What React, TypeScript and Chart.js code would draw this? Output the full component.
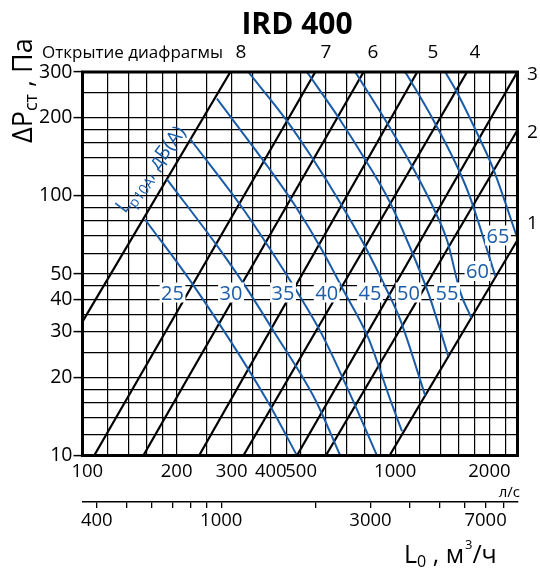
import React, { useEffect, useRef } from "react";
import { Chart, registerables } from "chart.js";

Chart.register(...registerables);

const FONT = "'Open Sans', 'Noto Sans', sans-serif";
const BLUE = "#1a5ca8";

// ---- axes ----
const flowMin = 100;
const flowMax = 2460;
const pressureMin = 10;
const pressureMax = 300;
const flowGrid = [100, 120, 140, 160, 180, 200, 250, 300, 350, 400, 450, 500, 600, 700, 800, 900, 1000, 1200, 1400, 1600, 1800, 2000, 2250];
const flowLabels = [100, 200, 300, 400, 500, 1000, 2000];
const pressureGrid = [10, 12, 14, 16, 18, 20, 25, 30, 35, 40, 45, 50, 60, 70, 80, 90, 100, 120, 140, 160, 180, 200, 250, 300];
const pressureLabels = [10, 20, 30, 40, 50, 100, 200, 300];
const m3hGrid = [400, 500, 600, 700, 800, 900, 1000, 2000, 3000, 4000, 5000, 6000, 7000, 8000];
const m3hLabels = [400, 1000, 3000, 7000];

// ---- diaphragm opening curves: [l/s, Pa] ----
const openingNames = ["8", "7", "6", "5", "4", "3", "2", "1"];
const opening8 = [[100, 32.8], [297, 300]];
const opening7 = [[109, 10], [555, 300]];
const opening6 = [[156.5, 10], [792, 300]];
const opening5 = [[236, 10], [1176, 300]];
const opening4 = [[327, 10], [1696, 300]];
const opening3 = [[485, 10], [2457, 300]];
const opening2 = [[600, 10], [2460, 179.4]];
const opening1 = [[959, 10], [2460, 67.6]];
const openings = [opening8, opening7, opening6, opening5, opening4, opening3, opening2, opening1];

// ---- sound level curves Lp10A, dB(A): [l/s, Pa] ----
const soundLevels = [25, 30, 35, 40, 45, 50, 55, 60, 65];
const sound25 = [[158.5, 81.1], [225.8, 45.4], [388, 16.4], [485, 10]];
const sound30 = [[186, 116], [271, 63.6], [331, 45.0], [410, 29.9], [555, 16.4], [667, 10]];
const sound35 = [[221, 165.6], [323, 90.6], [392, 64.1], [486, 42.6], [580, 29.6], [707, 17.9], [874, 10]];
const sound40 = [[269, 236.8], [392, 129.2], [477, 92.2], [588, 60.8], [682, 43.4], [820, 28.4], [964, 16.4], [1051, 12.4]];
const sound45 = [[339, 300], [445, 198.4], [541, 140.8], [669, 93.5], [787, 66.4], [943, 43.0], [1038, 33.3], [1247, 17.0]];
const sound50 = [[522, 300], [657, 201.3], [814, 133.9], [957, 95.6], [1117, 63.0], [1275, 42.3], [1477, 24.2]];
const sound55 = [[745, 300], [950, 187.6], [1117, 133.9], [1343, 86.7], [1467, 67.0], [1614, 42.6], [1751, 33.9]];
const sound60 = [[1076, 300], [1125, 274.7], [1323, 196.1], [1591, 126.9], [1738, 98.1], [2089, 49.1]];
const sound65 = [[1445, 300], [1567, 253.6], [1871, 164.2], [2059, 126.9], [2457, 68.8]];
const soundCurves = [sound25, sound30, sound35, sound40, sound45, sound50, sound55, sound60, sound65];

const toXY = (pts: number[][]) => pts.map(([x, y]) => ({ x, y }));

function drawLabels(chart: any) {
  const ctx: CanvasRenderingContext2D = chart.ctx;
  ctx.save();
  ctx.fillStyle = "#000";
  ctx.textBaseline = "alphabetic";

  // title
  ctx.font = `bold 30px ${FONT}`;
  ctx.textAlign = "center";
  ctx.fillText("IRD 400", 297, 34);

  // diaphragm opening header
  ctx.font = `17px ${FONT}`;
  ctx.textAlign = "left";
  ctx.fillText("Открытие диафрагмы", 42, 58);
  ctx.font = `19px ${FONT}`;
  ctx.textAlign = "center";
  const topPos = [241, 326, 373, 433, 475];
  topPos.forEach((x, i) => ctx.fillText(openingNames[i], x, 58));
  ctx.textAlign = "left";
  const rightPos = [80, 138, 229];
  rightPos.forEach((y, i) => ctx.fillText(openingNames[5 + i], 527, y));

  // y title
  ctx.save();
  ctx.translate(32, 143);
  ctx.rotate(-Math.PI / 2);
  ctx.textAlign = "left";
  ctx.font = `27px ${FONT}`;
  ctx.fillText("ΔP", 0, 0);
  let w = ctx.measureText("ΔP").width;
  ctx.font = `18px ${FONT}`;
  ctx.fillText("ст", w, 5);
  w += ctx.measureText("ст").width;
  ctx.font = `27px ${FONT}`;
  ctx.fillText(" , Па", w, 0);
  ctx.restore();

  // x title (m3/h)
  ctx.textAlign = "left";
  ctx.font = `25px ${FONT}`;
  let x = 404;
  ctx.fillText("L", x, 563);
  x += ctx.measureText("L").width;
  ctx.font = `16px ${FONT}`;
  ctx.fillText("0", x, 567);
  x += ctx.measureText("0").width;
  ctx.font = `25px ${FONT}`;
  ctx.fillText(" , м", x, 563);
  x += ctx.measureText(" , м").width;
  ctx.font = `13px ${FONT}`;
  ctx.fillText("3", x + 1, 549);
  x += ctx.measureText("3").width + 1;
  ctx.font = `25px ${FONT}`;
  ctx.fillText("/ч", x, 563);

  // l/s unit
  ctx.font = `15px ${FONT}`;
  ctx.textAlign = "right";
  ctx.fillText("л/с", 520, 497);

  // sound level labels
  ctx.font = `20px ${FONT}`;
  ctx.textAlign = "center";
  const soundPos = [[172.5, 292.5], [231, 292.5], [283, 292.5], [326.7, 292.5], [370, 292.5], [408.5, 292.5], [447, 292.5], [477.5, 271], [498, 235.5]];
  soundLevels.forEach((lv, i) => {
    const [cx, cy] = soundPos[i];
    const t = String(lv);
    const tw = ctx.measureText(t).width;
    ctx.fillStyle = "#fff";
    ctx.fillRect(cx - tw / 2 - 1.5, cy - 10, tw + 3, 20);
    ctx.fillStyle = BLUE;
    ctx.fillText(t, cx, cy + 7);
  });

  // rotated Lp10A label
  ctx.save();
  ctx.translate(125, 214);
  ctx.rotate((-53 * Math.PI) / 180);
  ctx.textAlign = "left";
  ctx.fillStyle = BLUE;
  ctx.font = `20px ${FONT}`;
  ctx.fillText("L", 0, 0);
  let lw = ctx.measureText("L").width;
  ctx.font = `14px ${FONT}`;
  ctx.fillText("p10A", lw, 5);
  lw += ctx.measureText("p10A").width;
  ctx.font = `20px ${FONT}`;
  ctx.fillText(", дБ(A)", lw, 0);
  ctx.restore();

  ctx.restore();
}

const framePlugin = {
  id: "frameAndText",
  afterDatasetsDraw(chart: any) {
    const { ctx, chartArea } = chart;
    ctx.save();
    ctx.strokeStyle = "#000";
    ctx.lineWidth = 3;
    ctx.strokeRect(chartArea.left, chartArea.top, chartArea.right - chartArea.left, chartArea.bottom - chartArea.top);
    ctx.restore();
  },
  afterDraw(chart: any) {
    drawLabels(chart);
  },
};

export default function App() {
  const ref = useRef<HTMLCanvasElement>(null);

  useEffect(() => {
    if (!ref.current) return;
    const datasets: any[] = [];
    soundCurves.forEach((pts, i) => {
      datasets.push({
        label: `${soundLevels[i]} дБ(A)`,
        data: toXY(pts),
        borderColor: BLUE,
        borderWidth: 2,
        pointRadius: 0,
        cubicInterpolationMode: "monotone",
        fill: false,
      });
    });
    openings.forEach((pts, i) => {
      datasets.push({
        label: `Открытие ${openingNames[i]}`,
        data: toXY(pts),
        borderColor: "#000",
        borderWidth: 2.2,
        pointRadius: 0,
        tension: 0,
        fill: false,
      });
    });

    const tickFont = { family: FONT, size: 18.5 };

    const chart = new Chart(ref.current, {
      type: "line",
      data: { datasets },
      options: {
        animation: false,
        responsive: false,
        devicePixelRatio: 1,
        layout: { padding: { left: 0, right: 22.5, top: 72, bottom: 0 } },
        plugins: { legend: { display: false }, tooltip: { enabled: false } },
        scales: {
          x: {
            type: "logarithmic",
            position: "bottom",
            weight: 0,
            min: flowMin,
            max: flowMax,
            afterBuildTicks: (s: any) => {
              s.ticks = flowGrid.map((v) => ({ value: v }));
            },
            afterFit: (s: any) => {
              s.height = 46.5;
            },
            ticks: {
              autoSkip: false,
              maxRotation: 0,
              minRotation: 0,
              padding: 5,
              color: "#000",
              font: tickFont,
              callback: (v: any) => (flowLabels.includes(Number(v)) ? (Number(v) === 100 ? "  100" : String(v)) : ""),
            },
            grid: { color: "#000", lineWidth: 1.2, drawTicks: false },
            border: { display: false },
          },
          x2: {
            type: "logarithmic",
            position: "bottom",
            weight: 1,
            min: flowMin * 3.6,
            max: flowMax * 3.6,
            afterBuildTicks: (s: any) => {
              s.ticks = m3hGrid.map((v) => ({ value: v }));
            },
            afterFit: (s: any) => {
              s.height = 69;
            },
            ticks: {
              autoSkip: false,
              maxRotation: 0,
              minRotation: 0,
              padding: 2,
              color: "#000",
              font: tickFont,
              callback: (v: any) => (m3hLabels.includes(Number(v)) ? String(v) : ""),
            },
            grid: { drawOnChartArea: false, drawTicks: true, tickLength: 6, color: "#000", lineWidth: 1.3 },
            border: { display: true, color: "#000", width: 1.5 },
          },
          y: {
            type: "logarithmic",
            position: "left",
            min: pressureMin,
            max: pressureMax,
            afterBuildTicks: (s: any) => {
              s.ticks = pressureGrid.map((v) => ({ value: v }));
            },
            afterFit: (s: any) => {
              s.width = 82.5;
            },
            ticks: {
              autoSkip: false,
              padding: 1,
              color: "#000",
              font: { family: FONT, size: 19.5 },
              callback: (v: any) => (pressureLabels.includes(Number(v)) ? String(v) : ""),
            },
            grid: {
              color: "#000",
              lineWidth: 1.2,
              drawTicks: true,
              tickLength: 9,
              tickWidth: 1.5,
              tickColor: (c: any) => (c.tick && pressureLabels.includes(c.tick.value) ? "#000" : "rgba(0,0,0,0)"),
            },
            border: { display: false },
          },
        },
      } as any,
      plugins: [framePlugin],
    });
    return () => chart.destroy();
  }, []);

  return (
    <div style={{ position: "fixed", left: 0, top: 0, width: 540, height: 571, background: "#fff" }}>
      <canvas ref={ref} width={540} height={571} style={{ display: "block" }} />
    </div>
  );
}
